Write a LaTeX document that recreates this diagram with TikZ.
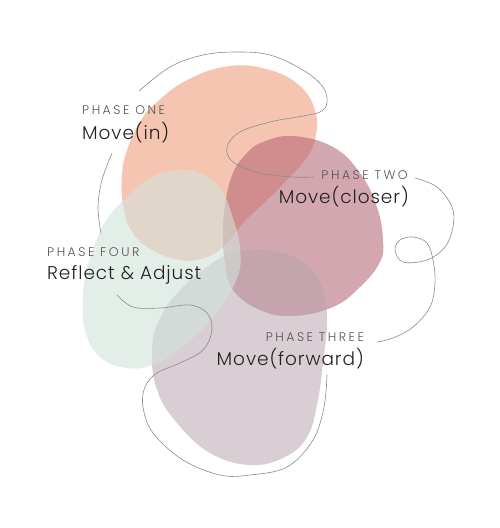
\documentclass[tikz,border=0pt]{standalone}
\usepackage{fontspec}
\setmainfont{Poppins}[UprightFont={* Light}]
\newfontfamily\phasefont{Poppins}[UprightFont={* Light}, LetterSpace=20]
\newfontfamily\movefont{Poppins}[UprightFont={* Light}, LetterSpace=5]
\definecolor{peach}{HTML}{F5C5B2}
\definecolor{pinkc}{HTML}{AF5E6E}
\definecolor{greyc}{HTML}{B7A3AC}
\definecolor{greenc}{HTML}{D2E3DA}
\definecolor{linec}{HTML}{8C8C8C}
\definecolor{phasec}{HTML}{555555}
\definecolor{movec}{HTML}{222222}
\tikzset{
  phaselbl/.style={inner sep=0pt, font=\phasefont\fontsize{12.5}{14}\selectfont, text=phasec},
  movelbl/.style={inner sep=0pt, font=\movefont\fontsize{18.5}{21}\selectfont, text=movec},
  thread/.style={draw=linec, line width=0.6pt, line cap=round},
}
\begin{document}
\begin{tikzpicture}[x=1pt,y=-1pt]
\useasboundingbox (0,0) rectangle (500,528);
\fill[white] (0,0) rectangle (500,528);
% blobs
\fill[peach] plot[smooth cycle, tension=0.7] coordinates {(230,66) (270,70) (300,86) (315,110) (316,135) (307,157) (287,180) (265,202) (243,223) (225,245) (205,258) (180,260) (152,250) (132,232) (123,205) (122,175) (127,150) (140,122) (155,104) (187,80)};
\fill[pinkc, opacity=0.54] plot[smooth cycle, tension=0.7] coordinates {(293,136) (333,147) (360,173) (377,207) (383,240) (380,262) (360,287) (333,307) (293,316) (260,310) (233,290) (225,263) (223,235) (225,205) (233,173) (247,153) (263,142)};
\fill[greyc, opacity=0.53] plot[smooth cycle, tension=0.7] coordinates {(267,250) (300,260) (320,283) (327,317) (323,363) (317,405) (307,437) (285,457) (250,465) (210,453) (177,423) (157,390) (152,350) (160,318) (183,287) (217,260) (240,252)};
\fill[greenc, opacity=0.6] plot[smooth cycle, tension=0.7] coordinates {(177,170) (200,173) (220,188) (232,215) (240,248) (237,278) (215,315) (185,345) (155,364) (127,368) (100,357) (85,330) (83,295) (88,265) (100,232) (110,215) (127,197) (150,178)};
% thread
\draw[thread] plot[smooth, tension=0.6] coordinates {(139,91) (170,67) (203,55) (237,52) (270,55) (303,70) (323,87) (327,103) (320,112) (303,116) (270,122) (240,132) (227,147) (233,162) (260,173) (293,177) (313,177)};
\draw[thread] plot[smooth, tension=0.6] coordinates {(415,178) (437,187) (452,207) (453,227) (445,247) (427,260) (403,262) (395,250) (400,240) (413,237) (427,243) (433,260) (435,283) (430,307) (413,327) (393,338) (377,342)};
\draw[thread] plot[smooth, tension=0.6] coordinates {(327,375) (324,407) (313,440) (287,467) (250,475) (220,475) (183,460) (153,433) (143,407) (145,387) (157,373) (180,363) (203,350) (212,330) (207,313) (190,305) (160,308) (133,307) (117,295)};
\draw[thread] plot[smooth, tension=0.6] coordinates {(112,153) (102,180) (98,207) (101,233)};
% labels
\node[phaselbl, anchor=base west] (p1) at (82,114) {PHASE ONE};
\node[movelbl, anchor=base west] (m1) at (82,139) {Move(in)};
\node[phaselbl, anchor=base east] (p2) at (408,179) {PHASE TWO};
\node[movelbl, anchor=base east] (m2) at (409,203) {Move(closer)};
\node[phaselbl, anchor=base west] (p4) at (47,256) {PHASE FOUR};
\node[movelbl, anchor=base west] (m4) at (47,279) {Reflect \& Adjust};
\node[phaselbl, anchor=base east] (p3) at (364,341) {PHASE THREE};
\node[movelbl, anchor=base east] (m3) at (364,365) {Move(forward)};
\end{tikzpicture}
\end{document}
